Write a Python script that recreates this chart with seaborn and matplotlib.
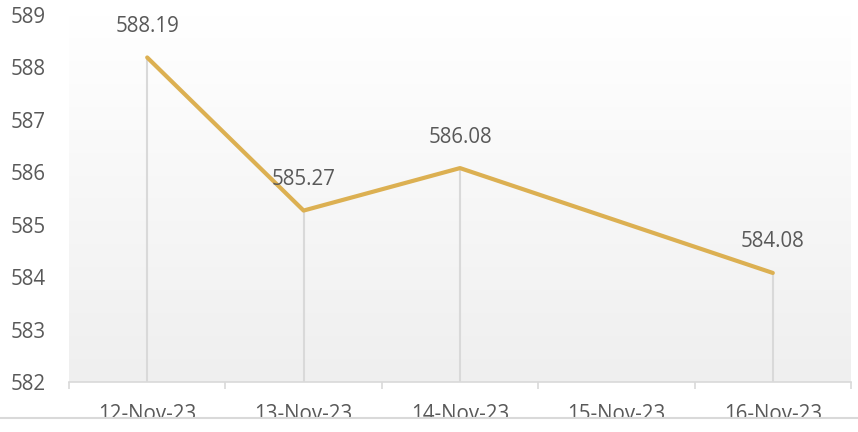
import numpy as np
import pandas as pd
import matplotlib
matplotlib.use("Agg")
import matplotlib.pyplot as plt
import seaborn as sns
from matplotlib.patches import Rectangle
from matplotlib.lines import Line2D

# ---- data ----
categories = ["12-Nov-23", "13-Nov-23", "14-Nov-23", "15-Nov-23", "16-Nov-23"]
dates = ["12-Nov-23", "13-Nov-23", "14-Nov-23", "16-Nov-23"]
values = [588.19, 585.27, 586.08, 584.08]
yticks = [582, 583, 584, 585, 586, 587, 588, 589]

sns.set_theme(style="white")
plt.rcParams['font.family'] = ['Open Sans', 'DejaVu Sans']

FS = 14.8
TXT = "#595959"

start = pd.to_datetime(categories[0], format="%d-%b-%y")
xpos = [(pd.to_datetime(d, format="%d-%b-%y") - start).days for d in dates]
df = pd.DataFrame({"x": xpos, "y": values})

fig = plt.figure(figsize=(8.58, 4.32), dpi=100)
fig.patch.set_facecolor("white")
ax = fig.add_axes([69/858, 1 - 382/432, (851 - 69)/858, (382 - 15)/432])

ymin, ymax = yticks[0], yticks[-1]
xmin, xmax = -0.5, len(categories) - 0.5

# gradient background (white at top, light grey at bottom)
grad = np.linspace(0, 1, 256).reshape(-1, 1)
cmap = matplotlib.colors.LinearSegmentedColormap.from_list("g", ["#ffffff", "#efefef"])
ax.imshow(grad, extent=[xmin, xmax, ymin, ymax], aspect="auto", cmap=cmap,
          origin="upper", zorder=0)

# drop lines
ax.vlines(df["x"], ymin, df["y"], colors="#d9d9d9", linewidth=1.5, zorder=1)

sns.lineplot(data=df, x="x", y="y", ax=ax, color="#dcb052", linewidth=3.0,
             zorder=3, legend=False)

for xv, yv in zip(df["x"], df["y"]):
    ax.annotate(f"{yv:.2f}", (xv, yv), xytext=(0, 31), textcoords="offset pixels",
                ha="center", va="center", fontsize=FS, color=TXT)

ax.set_xlim(xmin, xmax)
ax.set_ylim(ymin, ymax)
ax.set_yticks(yticks)
ax.set_yticklabels([str(t) for t in yticks])
ax.set_xticks(range(len(categories)))
ax.set_xticklabels(categories)
ax.set_xticks(np.arange(len(categories) + 1) - 0.5, minor=True)
ax.set_xlabel("")
ax.set_ylabel("")

for s in ["top", "right", "left"]:
    ax.spines[s].set_visible(False)
ax.spines["bottom"].set_color("#d9d9d9")
ax.spines["bottom"].set_linewidth(1.2)

ax.tick_params(axis="y", length=0, pad=17, labelsize=FS, labelcolor=TXT)
ax.tick_params(axis="x", which="major", length=0, pad=15.5, labelsize=FS,
               labelcolor=TXT)
ax.tick_params(axis="x", which="minor", length=5, width=1.2, color="#d9d9d9",
               direction="out", bottom=True)

# bottom crop band
fig.add_artist(Rectangle((0, 0), 1, 1 - 418/432, transform=fig.transFigure,
                         facecolor="white", edgecolor="none", zorder=5))
fig.add_artist(Line2D([0, 1], [1 - 418/432, 1 - 418/432], transform=fig.transFigure,
                      color="#d9d9d9", linewidth=1.5, zorder=6))

fig.savefig("out.png", dpi=100)
